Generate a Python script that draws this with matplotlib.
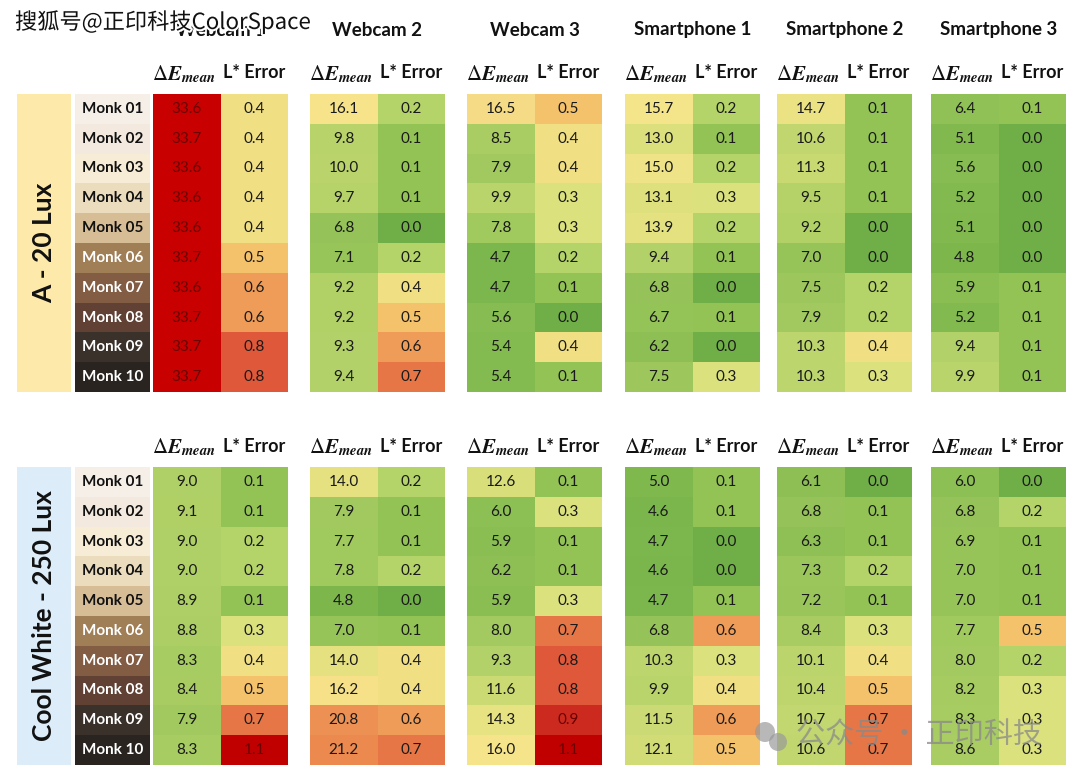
import numpy as np
import matplotlib.pyplot as plt
from matplotlib.colors import LinearSegmentedColormap, Normalize
from matplotlib.patches import Rectangle, Circle
import matplotlib.patheffects as pe

plt.rcParams['font.family'] = ['Lato', 'Noto Sans CJK SC', 'DejaVu Sans']
plt.rcParams['mathtext.fontset'] = 'stix'

# ---- data ----
devices = ["Webcam 1", "Webcam 2", "Webcam 3", "Smartphone 1", "Smartphone 2", "Smartphone 3"]
monk = ["Monk 01", "Monk 02", "Monk 03", "Monk 04", "Monk 05",
        "Monk 06", "Monk 07", "Monk 08", "Monk 09", "Monk 10"]
monk_colors = ["#f6efe8", "#f3e9de", "#f7ecd5", "#ebdcbd", "#d7bd96",
               "#a07e56", "#825c43", "#604134", "#3a312a", "#292420"]
conditions = ["A - 20 Lux", "Cool White - 250 Lux"]
cond_colors = ["#fde9a9", "#dcedf9"]

# A - 20 Lux
a20_de = [
    [33.6, 33.7, 33.6, 33.6, 33.6, 33.7, 33.6, 33.7, 33.7, 33.7],
    [16.1, 9.8, 10.0, 9.7, 6.8, 7.1, 9.2, 9.2, 9.3, 9.4],
    [16.5, 8.5, 7.9, 9.9, 7.8, 4.7, 4.7, 5.6, 5.4, 5.4],
    [15.7, 13.0, 15.0, 13.1, 13.9, 9.4, 6.8, 6.7, 6.2, 7.5],
    [14.7, 10.6, 11.3, 9.5, 9.2, 7.0, 7.5, 7.9, 10.3, 10.3],
    [6.4, 5.1, 5.6, 5.2, 5.1, 4.8, 5.9, 5.2, 9.4, 9.9],
]
a20_l = [
    [0.4, 0.4, 0.4, 0.4, 0.4, 0.5, 0.6, 0.6, 0.8, 0.8],
    [0.2, 0.1, 0.1, 0.1, 0.0, 0.2, 0.4, 0.5, 0.6, 0.7],
    [0.5, 0.4, 0.4, 0.3, 0.3, 0.2, 0.1, 0.0, 0.4, 0.1],
    [0.2, 0.1, 0.2, 0.3, 0.2, 0.1, 0.0, 0.1, 0.0, 0.3],
    [0.1, 0.1, 0.1, 0.1, 0.0, 0.0, 0.2, 0.2, 0.4, 0.3],
    [0.1, 0.0, 0.0, 0.0, 0.0, 0.0, 0.1, 0.1, 0.1, 0.1],
]
# Cool White - 250 Lux
cw_de = [
    [9.0, 9.1, 9.0, 9.0, 8.9, 8.8, 8.3, 8.4, 7.9, 8.3],
    [14.0, 7.9, 7.7, 7.8, 4.8, 7.0, 14.0, 16.2, 20.8, 21.2],
    [12.6, 6.0, 5.9, 6.2, 5.9, 8.0, 9.3, 11.6, 14.3, 16.0],
    [5.0, 4.6, 4.7, 4.6, 4.7, 6.8, 10.3, 9.9, 11.5, 12.1],
    [6.1, 6.8, 6.3, 7.3, 7.2, 8.4, 10.1, 10.4, 10.7, 10.6],
    [6.0, 6.8, 6.9, 7.0, 7.0, 7.7, 8.0, 8.2, 8.3, 8.6],
]
cw_l = [
    [0.1, 0.1, 0.2, 0.2, 0.1, 0.3, 0.4, 0.5, 0.7, 1.1],
    [0.2, 0.1, 0.1, 0.2, 0.0, 0.1, 0.4, 0.4, 0.6, 0.7],
    [0.1, 0.3, 0.1, 0.1, 0.3, 0.7, 0.8, 0.8, 0.9, 1.1],
    [0.1, 0.1, 0.0, 0.0, 0.1, 0.6, 0.3, 0.4, 0.6, 0.5],
    [0.0, 0.1, 0.1, 0.2, 0.1, 0.3, 0.4, 0.5, 0.7, 0.7],
    [0.0, 0.2, 0.1, 0.1, 0.1, 0.5, 0.2, 0.3, 0.3, 0.3],
]

# ---- colour scales ----
de_lo, de_hi = 4.5, 33.7
de_nodes = [(4.5, "#7ab64b"), (9.0, "#afd066"), (13.0, "#dce07c"), (16.0, "#f6e48b"),
            (21.0, "#ec8c50"), (27.0, "#d8342a"), (33.7, "#c80000")]
de_cmap = LinearSegmentedColormap.from_list(
    "de", [((v - de_lo) / (de_hi - de_lo), c) for v, c in de_nodes])
de_norm = Normalize(de_lo, de_hi)

l_lo, l_hi = 0.0, 1.1
l_nodes = [(0.0, "#70ae47"), (0.1, "#93c355"), (0.2, "#b5d368"), (0.3, "#dbe17d"),
           (0.4, "#f1e083"), (0.5, "#f4c26b"), (0.6, "#ee9c58"), (0.7, "#e77646"),
           (0.8, "#df593a"), (0.9, "#cc2a1f"), (1.1, "#c00000")]
l_cmap = LinearSegmentedColormap.from_list(
    "l", [((v - l_lo) / (l_hi - l_lo), c) for v, c in l_nodes])
l_norm = Normalize(l_lo, l_hi)

# ---- layout (pixels) ----
fig = plt.figure(figsize=(10.8, 7.76), dpi=100)
ax = fig.add_axes([0, 0, 1, 1])
ax.set_xlim(0, 1080)
ax.set_ylim(776, 0)
ax.axis('off')

group_x = [153, 310, 467, 625, 777, 931]
col_w = 67.5
block_top = [94, 467]
row_h = 29.8

for g, name in enumerate(devices):
    ax.text(group_x[g] + col_w, 30, name, ha='center', va='center',
            fontsize=13.5, fontweight='bold', color='#111111')

for b, (de_data, l_data) in enumerate([(a20_de, a20_l), (cw_de, cw_l)]):
    top = block_top[b]
    y_edges = top + np.arange(11) * row_h
    y_mid = top + (np.arange(10) + 0.5) * row_h

    # condition label box
    ax.add_patch(Rectangle((17, top), 54, 10 * row_h, color=cond_colors[b], lw=0))
    ax.text(44, top + 5 * row_h, conditions[b], rotation=90, ha='center', va='center',
            fontsize=19, fontweight='bold', color='#111111')

    # monk skin tone column
    ax.barh(y_mid, 75, height=row_h, left=75, color=monk_colors, lw=0)
    for i, lab in enumerate(monk):
        ax.text(112.5, y_mid[i], lab, ha='center', va='center', fontsize=11,
                fontweight='bold', color='#111111' if i < 5 else 'white')

    for g in range(len(devices)):
        x0 = group_x[g]
        de = np.array(de_data[g])
        le = np.array(l_data[g])
        ax.pcolormesh([x0, x0 + col_w], y_edges, de.reshape(-1, 1),
                      cmap=de_cmap, norm=de_norm, shading='flat')
        ax.pcolormesh([x0 + col_w, x0 + 2 * col_w], y_edges, le.reshape(-1, 1),
                      cmap=l_cmap, norm=l_norm, shading='flat')
        for i in range(10):
            c1 = '#6a0000' if de[i] > 30 else '#1a1a1a'
            c2 = '#6a0000' if le[i] >= 0.9 else '#1a1a1a'
            ax.text(x0 + col_w / 2, y_mid[i], f"{de[i]:.1f}", ha='center', va='center',
                    fontsize=11, color=c1)
            ax.text(x0 + 1.5 * col_w, y_mid[i], f"{le[i]:.1f}", ha='center', va='center',
                    fontsize=11, color=c2)
        hy = top - 20
        ax.text(x0 + col_w / 2 - 3, hy, r'$\Delta\mathbfit{E}_{\mathbfit{mean}}$',
                ha='center', va='center', fontsize=15, color='#111111')
        ax.text(x0 + 1.5 * col_w, hy - 1, "L* Error", ha='center', va='center',
                fontsize=13, fontweight='bold', color='#111111')

# watermarks
ax.text(15, 22, "搜狐号@正印科技ColorSpace", ha='left', va='center', fontsize=16,
        family=['Noto Sans CJK SC', 'DejaVu Sans'], color='#111111',
        path_effects=[pe.withStroke(linewidth=3, foreground='white')])
ax.add_patch(Circle((765, 732), 10, color='#9a9a9a', alpha=0.7, lw=0))
ax.add_patch(Circle((778, 742), 9, color='#9a9a9a', alpha=0.7, lw=0))
ax.text(796, 736, "公众号 · 正印科技", ha='left', va='center', fontsize=21,
        family=['Noto Sans CJK SC', 'DejaVu Sans'], color='#8a8a8a', alpha=0.75)

fig.savefig("out.png", dpi=100)
